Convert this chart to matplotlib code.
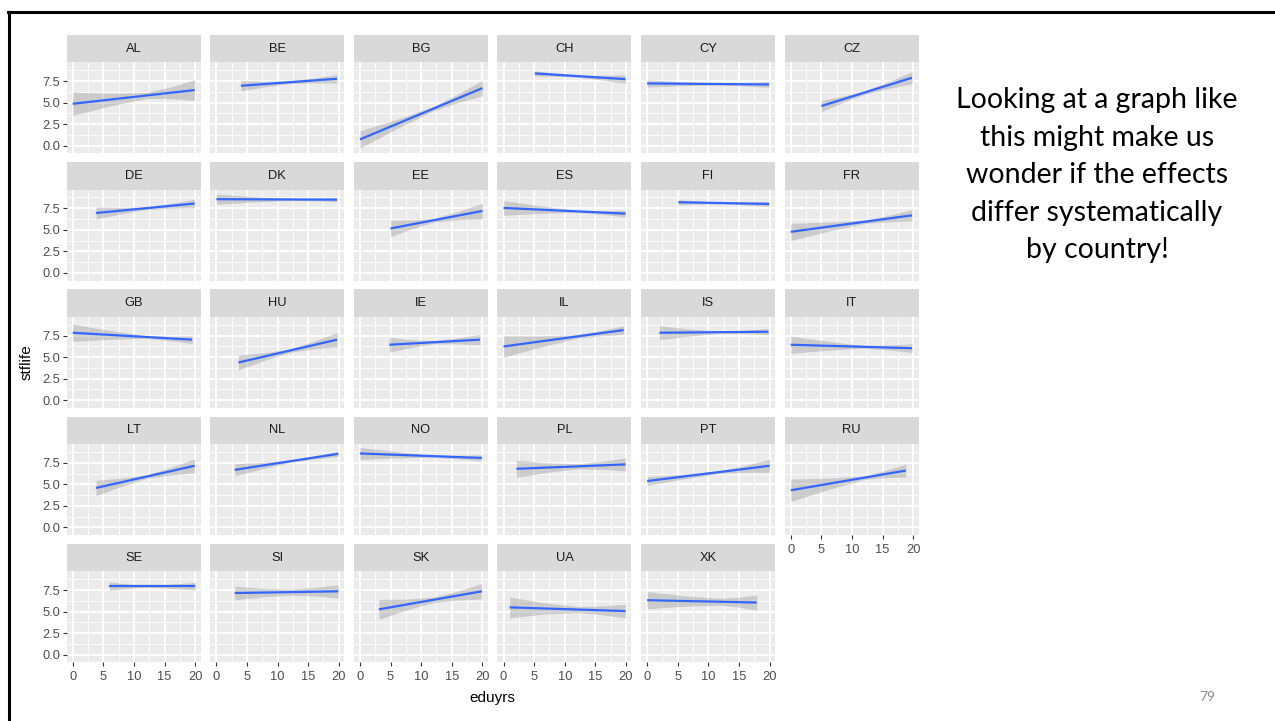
import numpy as np
import matplotlib.pyplot as plt
from matplotlib.lines import Line2D

# fitted stflife ~ eduyrs per country (lm fit, with 95% band)
countries = ["AL", "BE", "BG", "CH", "CY", "CZ",
             "DE", "DK", "EE", "ES", "FI", "FR",
             "GB", "HU", "IE", "IL", "IS", "IT",
             "LT", "NL", "NO", "PL", "PT", "RU",
             "SE", "SI", "SK", "UA", "XK"]
edu_start = [0.0, 4.0, 0.0, 5.1, 0.0, 5.0,
             3.8, 0.0, 5.0, 0.0, 5.1, 0.0,
             0.0, 3.6, 4.8, 0.0, 2.0, 0.0,
             3.8, 3.0, 0.0, 2.1, 0.0, 0.0,
             6.0, 3.0, 3.1, 1.0, 0.0]
edu_mid = 12.0
edu_end = [19.9, 19.7, 20.0, 19.9, 19.9, 19.8,
           19.9, 19.7, 20.0, 19.9, 19.9, 19.8,
           19.5, 19.7, 19.6, 19.6, 19.8, 19.8,
           19.9, 19.9, 19.9, 19.9, 20.0, 18.8,
           20.0, 19.9, 19.9, 19.9, 17.9]
fit_start = [4.86, 6.95, 0.73, 8.38, 7.22, 4.60,
             6.95, 8.55, 5.16, 7.54, 8.20, 4.77,
             7.82, 4.37, 6.43, 6.23, 7.82, 6.43,
             4.58, 6.68, 8.58, 6.80, 5.38, 4.31,
             7.94, 7.15, 5.26, 5.49, 6.32]
fit_end = [6.45, 7.76, 6.68, 7.72, 7.10, 7.88,
           8.05, 8.50, 7.19, 6.88, 8.00, 6.68,
           7.02, 7.02, 7.02, 8.13, 7.94, 6.03,
           7.15, 8.54, 8.06, 7.31, 7.15, 6.60,
           7.94, 7.35, 7.35, 5.06, 6.05]
# half-width of the confidence band: start, halfway to 12, at 12,
# halfway to end, end
se_start = [1.35, 0.60, 1.00, 0.30, 0.42, 0.65,
            0.70, 0.60, 0.95, 0.85, 0.30, 1.00,
            1.00, 0.85, 0.85, 1.25, 0.80, 1.00,
            0.90, 0.70, 0.70, 1.00, 0.50, 1.30,
            0.50, 0.80, 1.15, 1.20, 1.00]
se_q1 = [0.74, 0.33, 0.54, 0.18, 0.23, 0.37,
         0.37, 0.31, 0.51, 0.44, 0.17, 0.53,
         0.52, 0.46, 0.45, 0.65, 0.41, 0.52,
         0.48, 0.37, 0.37, 0.56, 0.28, 0.67,
         0.26, 0.50, 0.63, 0.67, 0.61]
se_mid = [0.35, 0.15, 0.25, 0.12, 0.10, 0.20,
          0.15, 0.10, 0.20, 0.12, 0.10, 0.20,
          0.15, 0.20, 0.18, 0.20, 0.12, 0.15,
          0.20, 0.12, 0.12, 0.30, 0.15, 0.20,
          0.10, 0.35, 0.30, 0.35, 0.40]
se_q3 = [0.67, 0.28, 0.50, 0.27, 0.20, 0.39,
         0.28, 0.14, 0.48, 0.22, 0.17, 0.37,
         0.26, 0.44, 0.34, 0.30, 0.20, 0.28,
         0.44, 0.18, 0.21, 0.46, 0.40, 0.41,
         0.24, 0.49, 0.52, 0.50, 0.57]
se_end = [1.20, 0.50, 0.90, 0.50, 0.35, 0.70,
          0.50, 0.22, 0.90, 0.38, 0.30, 0.65,
          0.45, 0.80, 0.60, 0.50, 0.35, 0.50,
          0.80, 0.30, 0.36, 0.75, 0.75, 0.75,
          0.45, 0.77, 0.90, 0.80, 0.90]

x_major = [0, 5, 10, 15, 20]
x_minor = [2.5, 7.5, 12.5, 17.5]
y_major = [0.0, 2.5, 5.0, 7.5]
y_minor = [1.25, 3.75, 6.25, 8.75]

note_lines = ["Looking at a graph like", "this might make us",
              "wonder if the effects", "differ systematically",
              "by country!"]

W, H = 1275, 721
fig = plt.figure(figsize=(W / 100, H / 100), dpi=100)
plt.rcParams['font.family'] = ['Liberation Sans', 'DejaVu Sans']

ncol = 6
pan_w, pan_h, strip_h = 134, 91, 27.3
col_step, row_step = 143.6, 127.25

for i, cc in enumerate(countries):
    r, c = divmod(i, ncol)
    left = 66.7 + c * col_step
    top = 62.3 + r * row_step
    ax = fig.add_axes([left / W, 1 - (top + pan_h) / H, pan_w / W, pan_h / H])
    sax = fig.add_axes([left / W, 1 - top / H, pan_w / W, strip_h / H])
    sax.set_facecolor('#D9D9D9')
    sax.set_xticks([])
    sax.set_yticks([])
    for s in sax.spines.values():
        s.set_visible(False)
    sax.text(0.5, 0.5, cc, ha='center', va='center', fontsize=9.3,
             color='#1A1A1A', transform=sax.transAxes)

    ax.set_facecolor('#EBEBEB')
    for s in ax.spines.values():
        s.set_visible(False)
    ax.set_xlim(-0.99, 20.9)
    ax.set_ylim(-0.88, 9.67)
    ax.set_xticks(x_major)
    ax.set_xticks(x_minor, minor=True)
    ax.set_yticks(y_major)
    ax.set_yticks(y_minor, minor=True)
    ax.set_yticklabels([f"{v:.1f}" for v in y_major])
    ax.set_axisbelow(True)
    ax.grid(which='major', color='white', lw=1.3)
    ax.grid(which='minor', color='white', lw=0.6)
    ax.tick_params(which='minor', length=0)
    ax.tick_params(which='major', length=3.2, width=0.8, color='#333333',
                   labelcolor='#4D4D4D', labelsize=9.3)
    ax.tick_params(axis='y', pad=1.5)
    ax.tick_params(axis='x', pad=3.2)

    # x axis only where there is no panel underneath
    bottom = (i + ncol) >= len(countries)
    ax.tick_params(axis='x', bottom=bottom, labelbottom=bottom)
    ax.tick_params(axis='y', left=(c == 0), labelleft=(c == 0))

    x0, x1 = edu_start[i], edu_end[i]
    xs = np.array([x0, (x0 + edu_mid) / 2, edu_mid, (edu_mid + x1) / 2, x1])
    fit = np.interp(xs, [x0, x1], [fit_start[i], fit_end[i]])
    se = np.array([se_start[i], se_q1[i], se_mid[i], se_q3[i], se_end[i]])
    ax.fill_between(xs, fit - se, fit + se, color='#999999', alpha=0.4, lw=0)
    ax.plot([x0, x1], [fit_start[i], fit_end[i]], color='#3366FF', lw=1.6,
            solid_capstyle='butt')

fig.text(492.7 / W, 1 - 698 / H, "eduyrs", ha='center', va='center',
         fontsize=11, color='black')
fig.text(27 / W, 1 - 362 / H, "stflife", ha='center', va='center',
         rotation=90, fontsize=11, color='black')

for k, line in enumerate(note_lines):
    fig.text(1097 / W, 1 - (100 + k * 37.6) / H, line, ha='center',
             va='center', fontsize=20.5, family=['Lato', 'DejaVu Sans'],
             color='black')

fig.text(1207 / W, 1 - 697 / H, "79", ha='center', va='center',
         fontsize=10, family=['Lato', 'DejaVu Sans'], color='#8C8C8C')

# slide frame
fig.add_artist(Line2D([9 / W, 9 / W], [0, 1 - 12 / H], color='black',
                      lw=2.2, transform=fig.transFigure))
fig.add_artist(Line2D([8 / W, 1], [1 - 12 / H, 1 - 12 / H], color='black',
                      lw=2.2, transform=fig.transFigure))

fig.savefig("out.png", dpi=100)
